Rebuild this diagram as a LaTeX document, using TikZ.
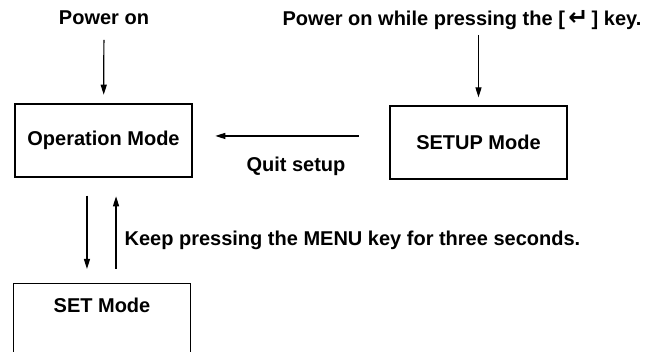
\documentclass[tikz,border=0pt]{standalone}
\usepackage{fontspec}
\setmainfont{Liberation Sans}
\newfontfamily\keyfont{DejaVu Sans}
\usetikzlibrary{positioning, arrows.meta}

\begin{document}
\begin{tikzpicture}[x=0.75pt, y=-0.75pt, ->, >={Triangle[length=7.5pt,width=4.5pt]}, line width=0.9pt,
    font=\fontsize{15}{17}\selectfont\bfseries,
    modebox/.style={draw, rectangle, minimum width=132.75pt, minimum height=54.75pt, inner sep=0pt},
    lbl/.style={inner sep=0pt, anchor=base}]
      \useasboundingbox (0,0) rectangle (646,352);

      \node[lbl] (pon) at (104,25) {Power on};
      \node[lbl] (pkey) at (462,26) {Power on while pressing the [\,{\keyfont\bfseries\fontsize{18}{17}\selectfont ↵}\,] key.};
      \node[modebox] (op) at (103.5,140.5) {Operation Mode};
      \node[modebox] (setup) at (478.5,142.5) {SETUP Mode};
      \node[modebox, anchor=north, minimum height=0pt, inner ysep=10.5pt, text depth=30pt] (set) at (102,283) {SET Mode};
      \node[lbl] (quit) at (296,172) {Quit setup};
      \node[lbl, anchor=base west] (keep) at (124,246) {Keep pressing the MENU key for three seconds.};

      % entry arrows
      \draw[shorten <=10.5pt, shorten >=6.5pt] (pon) -- (op);
      \draw[shorten <=3pt, shorten >=6pt] (setup.north |- pkey.south) -- (setup.north);
      \draw[shorten <=23pt, shorten >=17pt] ([yshift=4.9pt]setup.west) -- ([yshift=4.9pt]setup.west -| op.east);
      % menu key
      \draw[shorten <=13.5pt, shorten >=10.5pt] ([xshift=-12.4pt]op.south) -- ([xshift=-12.4pt]op.south |- set.north);
      \draw[shorten <=10.5pt, shorten >=14pt] ([xshift=9.4pt]op.south |- set.north) -- ([xshift=9.4pt]op.south);
    \end{tikzpicture}
\end{document}
